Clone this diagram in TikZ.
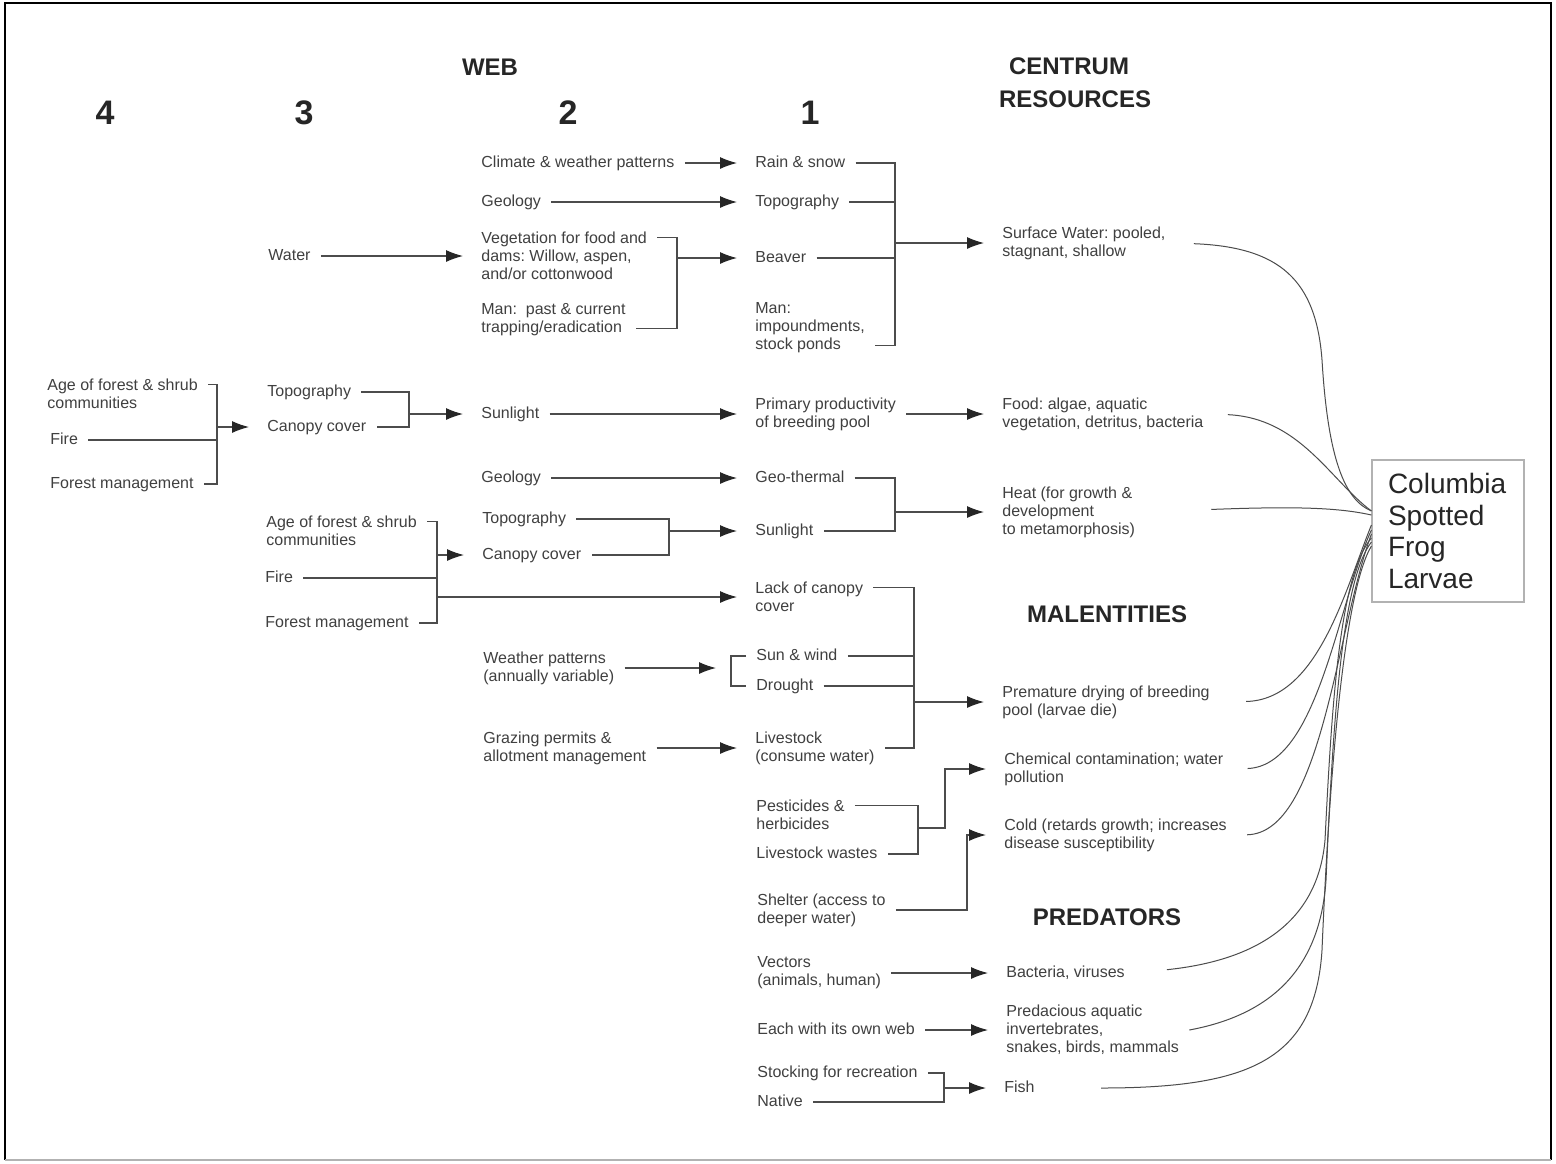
\documentclass[tikz,border=0pt]{standalone}
\usepackage{fontspec}
\setmainfont{Liberation Sans}
\usetikzlibrary{arrows.meta}
\definecolor{ink}{gray}{0.25}
\definecolor{wireclr}{gray}{0.3}

\begin{document}
\frenchspacing
\begin{tikzpicture}[x=0.5pt,y=-0.5pt,
  lbl/.style={anchor=west, inner xsep=5pt, inner ysep=1pt, text=ink, font=\fontsize{8}{9}\selectfont, text height=5.8pt, text depth=1.7pt},
  blk/.style={anchor=west, inner xsep=5pt, inner ysep=1pt, text=ink, align=left, font=\fontsize{8}{9}\selectfont},
  hd/.style={font=\bfseries\fontsize{12}{14}\selectfont, text=black!85},
  num/.style={font=\bfseries\fontsize{17}{20}\selectfont, text=black!85},
  wire/.style={draw=wireclr, line width=0.6pt},
  arr/.style={wire, shorten >=4pt, -{Latex[length=8.5pt,width=6pt,color=black!85]}},
  link/.style={draw=wireclr, line width=0.5pt}]
%frame
\fill[white] (0,0) rectangle (1556,1163);
\draw[line width=1.4pt] (5,1160) -- (5,3) -- (1551,3) -- (1551,1160);
\draw[line width=1pt, black!30] (5,1160) -- (1551,1160);
%
%headings
\node[hd] (web) at (490,67) {WEB};
\node[hd] (centrum) at (1069,66) {CENTRUM};
\node[hd] (resources) at (1075,99) {RESOURCES};
\node[hd] (malent) at (1107,614) {MALENTITIES};
\node[hd] (predators) at (1107,917) {PREDATORS};
\node[num] (c4) at (105,113) {4};
\node[num] (c3) at (304,113) {3};
\node[num] (c2) at (568,113) {2};
\node[num] (c1) at (810,113) {1};
%
%surface water
\node[lbl] (climate) at (471,163) {Climate \& weather patterns};
\node[lbl] (geoA) at (471,202) {Geology};
\node[blk] (veg) at (471,256) {Vegetation for food and\\dams: Willow, aspen,\\and/or cottonwood};
\node[blk] (trap) at (471,320) {Man:\ \ past \& current\\trapping/eradication};
\node[lbl] (water) at (258,256) {Water};
\node[lbl] (rain) at (745,163) {Rain \& snow};
\node[lbl] (topoA) at (745,202) {Topography};
\node[lbl] (beaver) at (745,258) {Beaver};
\node[blk] (ponds) at (745,328) {Man:\\impoundments,\\stock ponds};
\node[blk] (surf) at (992,243) {Surface Water: pooled,\\stagnant, shallow};
\coordinate (jveg) at (677,258);
\coordinate (jres) at (895,243);
\draw[arr] (climate.east) -- (rain.west);
\draw[arr] (geoA.east) -- (topoA.west);
\draw[arr] (water.east) -- (veg.west);
\draw[wire] ([yshift=-4pt]veg.north east) -| (jveg) |- ([yshift=5pt]trap.south east);
\draw[arr] (jveg) -- (beaver.west);
\draw[wire] (rain.east) -| (jres) |- ([yshift=5pt]ponds.south east);
\draw[wire] (topoA.east) -- (topoA.east -| jres);
\draw[wire] (beaver.east) -- (beaver.east -| jres);
\draw[arr] (jres) -- (surf.west);
%
%food
\node[blk] (ageA) at (37,394) {Age of forest \& shrub\\communities};
\node[lbl] (fireA) at (40,440) {Fire};
\node[lbl] (forestA) at (40,484) {Forest management};
\node[lbl] (topoB) at (257,392) {Topography};
\node[lbl] (canopyA) at (257,427) {Canopy cover};
\node[lbl] (sunA) at (471,414) {Sunlight};
\node[blk] (prim) at (745,414) {Primary productivity\\of breeding pool};
\node[blk] (food) at (992,414) {Food: algae, aquatic\\vegetation, detritus, bacteria};
\coordinate (jforA) at (217,427);
\coordinate (jsunA) at (409,414);
\draw[wire] ([yshift=-4pt]ageA.north east) -| (jforA) |- (forestA.east);
\draw[wire] (fireA.east) -- (fireA.east -| jforA);
\draw[arr] (jforA) -- (canopyA.west);
\draw[wire] (topoB.east) -| (jsunA) |- (canopyA.east);
\draw[arr] (jsunA) -- (sunA.west);
\draw[arr] (sunA.east) -- (prim.west);
\draw[arr] (prim.east) -- (food.west);
%
%heat
\node[lbl] (geoB) at (471,478) {Geology};
\node[lbl] (geotherm) at (745,478) {Geo-thermal};
\node[lbl] (topoC) at (472,519) {Topography};
\node[lbl] (canopyB) at (472,555) {Canopy cover};
\node[lbl] (sunB) at (745,531) {Sunlight};
\node[blk] (heat) at (992,512) {Heat (for growth \&\\development\\to metamorphosis)};
\node[blk] (ageB) at (256,531) {Age of forest \& shrub\\communities};
\node[lbl] (fireB) at (255,578) {Fire};
\node[lbl] (forestB) at (255,623) {Forest management};
\node[blk] (lack) at (745,597) {Lack of canopy\\cover};
\coordinate (jsunB) at (669,531);
\coordinate (jheat) at (895,512);
\coordinate (jforB) at (437,555);
\coordinate (jlack) at (437,597);
\draw[arr] (geoB.east) -- (geotherm.west);
\draw[wire] (topoC.east) -| (jsunB) |- (canopyB.east);
\draw[arr] (jsunB) -- (sunB.west);
\draw[wire] (geotherm.east) -| (jheat) |- (sunB.east);
\draw[arr] (jheat) -- (heat.west);
\draw[wire] ([yshift=-4pt]ageB.north east) -| (jforB) |- (forestB.east);
\draw[wire] (fireB.east) -- (fireB.east -| jforB);
\draw[arr] (jforB) -- (canopyB.west);
\draw[arr] (jlack) -- (lack.west);
%
%drying
\node[blk] (weather) at (473,668) {Weather patterns\\(annually variable)};
\node[lbl] (sunwind) at (746,656) {Sun \& wind};
\node[lbl] (drought) at (746,686) {Drought};
\node[blk] (grazing) at (473,748) {Grazing permits \&\\allotment management};
\node[blk] (livestock) at (745,748) {Livestock\\(consume water)};
\node[blk] (dry) at (992,702) {Premature drying of breeding\\pool (larvae die)};
\coordinate (jwx) at (731,668);
\coordinate (jdry) at (914,702);
\draw[wire] (sunwind.west) -| (jwx) |- (drought.west);
\draw[arr, shorten >=7.5pt] (weather.east) -- (jwx);
\draw[arr] (grazing.east) -- (livestock.west);
\draw[wire] ([yshift=-4pt]lack.north east) -| (jdry) |- (livestock.east);
\draw[wire] (sunwind.east) -- (sunwind.east -| jdry);
\draw[wire] (drought.east) -- (drought.east -| jdry);
\draw[arr] (jdry) -- (dry.west);
%
%chemical, cold
\node[blk] (pest) at (746,815) {Pesticides \&\\herbicides};
\node[lbl] (wastes) at (746,854) {Livestock wastes};
\node[blk] (chem) at (994,769) {Chemical contamination; water\\pollution};
\node[blk] (shelter) at (747,910) {Shelter (access to\\deeper water)};
\node[blk] (cold) at (994,835) {Cold (retards growth; increases\\disease susceptibility};
\coordinate (jchem) at (918,828);
\coordinate (kchem) at (945,828);
\coordinate (kcold) at (967,910);
\draw[wire] ([yshift=-4pt]pest.north east) -| (jchem) |- (wastes.east);
\draw[arr] (jchem) -- (kchem) |- (chem.west);
\draw[arr] (shelter.east) -- (kcold) |- (cold.west);
%
%predators
\node[blk] (vectors) at (747,973) {Vectors\\(animals, human)};
\node[lbl] (bact) at (996,973) {Bacteria, viruses};
\node[lbl] (each) at (747,1030) {Each with its own web};
\node[blk] (predac) at (996,1030) {Predacious aquatic\\invertebrates,\\snakes, birds, mammals};
\node[lbl] (stocking) at (747,1073) {Stocking for recreation};
\node[lbl] (native) at (747,1102) {Native};
\node[lbl] (fish) at (994,1088) {Fish};
\coordinate (jfish) at (944,1088);
\draw[arr] (vectors.east) -- (bact.west);
\draw[arr] (each.east) -- (predac.west);
\draw[wire] (stocking.east) -| (jfish) |- (native.east);
\draw[arr] (jfish) -- (fish.west);
%
%larvae
\node[draw=black!30, line width=0.6pt, text width=60pt, inner xsep=8pt, minimum height=71pt, align=left, font=\fontsize{14}{15.75}\selectfont, text=black!85] (frog) at (1448,531) {Columbia\\Spotted\\Frog\\Larvae};
\draw[link, shorten <=9pt] (surf.east) .. controls (1280,247) and (1316,280) .. (1322,360) .. controls (1328,460) and (1345,500) .. ([yshift=10pt]frog.west);
\draw[link, shorten <=7pt] (food.east) .. controls (1300,418) and (1330,480) .. ([yshift=10pt]frog.west);
\draw[link, shorten <=33pt] (heat.east) .. controls (1300,506) and (1340,508) .. ([yshift=8pt]frog.west);
\draw[link, shorten <=13pt] (dry.east) .. controls (1318,700) and (1345,590) .. ([yshift=3pt]frog.west);
\draw[link, shorten <=7pt] (chem.east) .. controls (1318,766) and (1337,605) .. ([yshift=0.5pt]frog.west);
\draw[link, shorten <=5pt] (cold.east) .. controls (1322,833) and (1336,630) .. ([yshift=-1.5pt]frog.west);
\draw[link, shorten <=16pt] (bact.east) .. controls (1260,960) and (1318,920) .. (1325,840) .. controls (1332,700) and (1340,575) .. ([yshift=-3.5pt]frog.west);
\draw[link] (predac.east) .. controls (1270,1015) and (1320,970) .. (1326,880) .. controls (1333,720) and (1342,580) .. ([yshift=-5.5pt]frog.west);
\draw[link, shorten <=28pt] (fish.east) .. controls (1250,1088) and (1315,1060) .. (1322,950) .. controls (1330,760) and (1345,590) .. ([yshift=-7.5pt]frog.west);
\end{tikzpicture}
\end{document}
